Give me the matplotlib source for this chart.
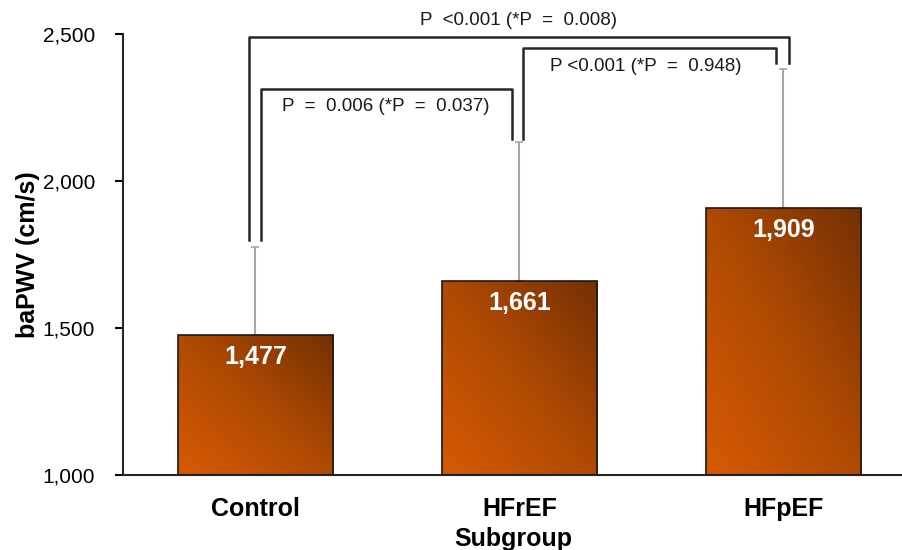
import numpy as np
import matplotlib.pyplot as plt
from matplotlib.colors import LinearSegmentedColormap
from matplotlib.ticker import FuncFormatter

plt.rcParams['font.family'] = ['Liberation Sans', 'DejaVu Sans']

groups = ['Control', 'HFrEF', 'HFpEF']
means = [1477, 1661, 1909]
sds = [298, 471, 472]

# brackets: (left x, right x, top y, left leg bottom, right leg bottom, label, label x, label y)
brackets = [
    (-0.025, 2.02, 2490, 1800, 2400, 'P  <0.001 (*P  =  0.008)', 0.995, 2545),
    (0.02, 0.97, 2313, 1800, 2143, 'P  =  0.006 (*P  =  0.037)', 0.495, 2252),
    (1.013, 1.97, 2452, 2143, 2400, 'P <0.001 (*P  =  0.948)', 1.48, 2391),
]

fig = plt.figure(figsize=(9.03, 5.50), dpi=100)
ax = fig.add_axes([0.1362, 0.1364, 0.8638, 0.8018])

x = np.arange(len(groups))
bars = ax.bar(x, np.array(means) - 1000, bottom=1000, width=0.59,
              facecolor='none', edgecolor='#1a1a1a', linewidth=1.2, zorder=3)

cmap = LinearSegmentedColormap.from_list('brown', ['#D65A04', '#B04A02', '#743004'])
gy, gx = np.mgrid[0:1:100j, 0:1:100j]
grad = (gx + gy) / 2
for b in bars:
    x0, y0 = b.get_x(), b.get_y()
    im = ax.imshow(grad, cmap=cmap, origin='lower', aspect='auto',
                   extent=[x0, x0 + b.get_width(), y0, y0 + b.get_height()], zorder=2)
    im.set_clip_path(b)

ax.errorbar(x, means, yerr=[[0] * 3, sds], fmt='none', ecolor='#a6a6a6',
            elinewidth=1.5, capsize=3, capthick=1.2, zorder=1)

for xi, m in zip(x, means):
    ax.text(xi, m - 75, f'{m:,}', ha='center', va='center', color='white',
            fontsize=18, fontweight='bold', zorder=4)

for xl, xr, top, bl, br, lab, tx, ty in brackets:
    ax.plot([xl, xl, xr, xr], [bl, top, top, br], color='#262626', lw=1.8,
            clip_on=False, zorder=5)
    ax.text(tx, ty, lab, ha='center', va='center', fontsize=13.5, color='#1a1a1a',
            clip_on=False)

ax.set_xlim(-0.502, 2.453)
ax.set_ylim(1000, 2500)
ax.set_yticks([1000, 1500, 2000, 2500])
ax.yaxis.set_major_formatter(FuncFormatter(lambda v, p: f'{int(v):,}'))
ax.set_xticks(x)
ax.set_xticklabels(groups, fontsize=18, fontweight='bold')
ax.tick_params(axis='x', length=0, pad=16)
ax.tick_params(axis='y', labelsize=15, length=6, width=1.5, direction='out', pad=14)
ax.set_xlabel('Subgroup', fontsize=18, fontweight='bold', labelpad=4)
ax.set_ylabel('baPWV (cm/s)', fontsize=18, fontweight='bold', labelpad=2)

for s in ['top', 'right']:
    ax.spines[s].set_visible(False)
for s in ['left', 'bottom']:
    ax.spines[s].set_linewidth(1.5)
    ax.spines[s].set_color('#262626')

fig.savefig('out.png', dpi=100)
